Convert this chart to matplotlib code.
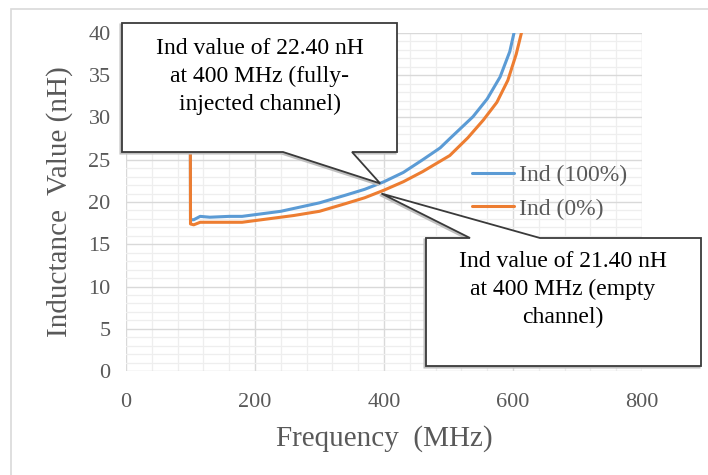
import matplotlib
matplotlib.use("Agg")
import matplotlib.pyplot as plt
from matplotlib.patches import Polygon, Rectangle
import numpy as np

# data (MHz, nH)
freq_100 = [99, 100, 105, 115, 130, 160, 180, 200, 240, 270, 300, 340, 370, 400,
            430, 460, 487, 502, 538, 560, 580, 595, 603, 610]
ind_100 = [60, 17.9, 17.9, 18.3, 18.2, 18.3, 18.3, 18.5, 18.9, 19.4, 19.9, 20.8, 21.5, 22.4,
           23.5, 25.0, 26.4, 27.5, 30.1, 32.2, 34.8, 37.8, 40.5, 43.0]
freq_0 = [99, 100, 105, 115, 140, 180, 220, 260, 300, 340, 370, 400,
          430, 460, 502, 530, 554, 575, 592, 605, 614, 620]
ind_0 = [60, 17.4, 17.3, 17.6, 17.6, 17.6, 18.0, 18.4, 18.9, 19.8, 20.5, 21.4,
         22.4, 23.6, 25.5, 27.6, 29.7, 31.8, 34.4, 37.5, 40.3, 43.0]
labels = ["Ind (100%)", "Ind (0%)"]
note_full = "Ind value of 22.40 nH\nat 400 MHz (fully-\ninjected channel)"
note_empty = "Ind value of 21.40 nH\nat 400 MHz (empty\nchannel)"
tip_full = (394, 22.2)
tip_empty = (396, 21.0)

W, H = 708, 475
serif = ["Liberation Serif", "DejaVu Serif"]
grey = "#595959"

fig = plt.figure(figsize=(W / 100, H / 100), dpi=100)
fig.patches.append(Rectangle((11 / W, -0.1), 1.2, 1 - 9 / H + 0.1, transform=fig.transFigure,
                             fill=False, edgecolor="#d9d9d9", lw=1.2))

ax = fig.add_axes([126 / W, 1 - 371 / H, 516 / W, 338 / H])
ax.plot(freq_100, ind_100, color="#5B9BD5", lw=2.2, label=labels[0], solid_capstyle="round")
ax.plot(freq_0, ind_0, color="#ED7D31", lw=2.2, label=labels[1], solid_capstyle="round")

ax.set_xlim(0, 800)
ax.set_ylim(0, 40)
ax.set_xticks(np.arange(0, 801, 200))
ax.set_yticks(np.arange(0, 41, 5))
ax.set_xticks(np.arange(0, 801, 40), minor=True)
ax.set_yticks(np.arange(0, 41, 1), minor=True)
ax.grid(which="major", color="#d9d9d9", lw=1.0)
ax.grid(which="minor", color="#eeeeee", lw=0.9)
ax.set_axisbelow(True)
for s in ax.spines.values():
    s.set_visible(False)
ax.tick_params(which="both", length=0, labelcolor=grey, labelsize=16)
ax.tick_params(axis="y", pad=11)
ax.tick_params(axis="x", pad=16)
for t in ax.get_xticklabels() + ax.get_yticklabels():
    t.set_family(serif)

ax.set_ylabel("Inductance  Value (nH)", family=serif, fontsize=21, color=grey, labelpad=11)
ax.set_xlabel("Frequency  (MHz)", family=serif, fontsize=21, color=grey, labelpad=9)

leg = ax.legend(loc="upper left", bbox_to_anchor=(0.67, 0.61), frameon=False,
                prop={"family": serif, "size": 17}, handlelength=1.8, handletextpad=0.2,
                labelspacing=0.5, borderaxespad=0, borderpad=0)
for t in leg.get_texts():
    t.set_color(grey)


def to_fig(px, py):
    return (px / W, 1 - py / H)


def tip_fig(pt):
    d = ax.transData.transform(pt)
    return tuple(fig.transFigure.inverted().transform(d))


def callout(verts, text, tx, ty):
    shadow = [(x - 1.5 / W, y - 1.5 / H) for x, y in verts]
    fig.patches.append(Polygon(shadow, closed=True, transform=fig.transFigure,
                               facecolor="#bfbfbf", edgecolor="#bfbfbf", lw=1.5, zorder=4))
    fig.patches.append(Polygon(verts, closed=True, transform=fig.transFigure,
                               facecolor="white", edgecolor="#3a3a3a", lw=1.3, zorder=5))
    fig.text(tx / W, 1 - ty / H, text, ha="center", va="top", family=serif,
             fontsize=17, color="black", linespacing=1.42, zorder=6)


box1 = [to_fig(122, 23), to_fig(397, 23), to_fig(397, 152), to_fig(352, 152),
        tip_fig(tip_full), to_fig(283, 152), to_fig(122, 152)]
callout(box1, note_full, 260, 38)

box2 = [to_fig(426, 238), to_fig(470, 238), tip_fig(tip_empty), to_fig(540, 238),
        to_fig(701, 238), to_fig(701, 366), to_fig(426, 366)]
callout(box2, note_empty, 563, 251)

fig.savefig("out.png", dpi=100)
